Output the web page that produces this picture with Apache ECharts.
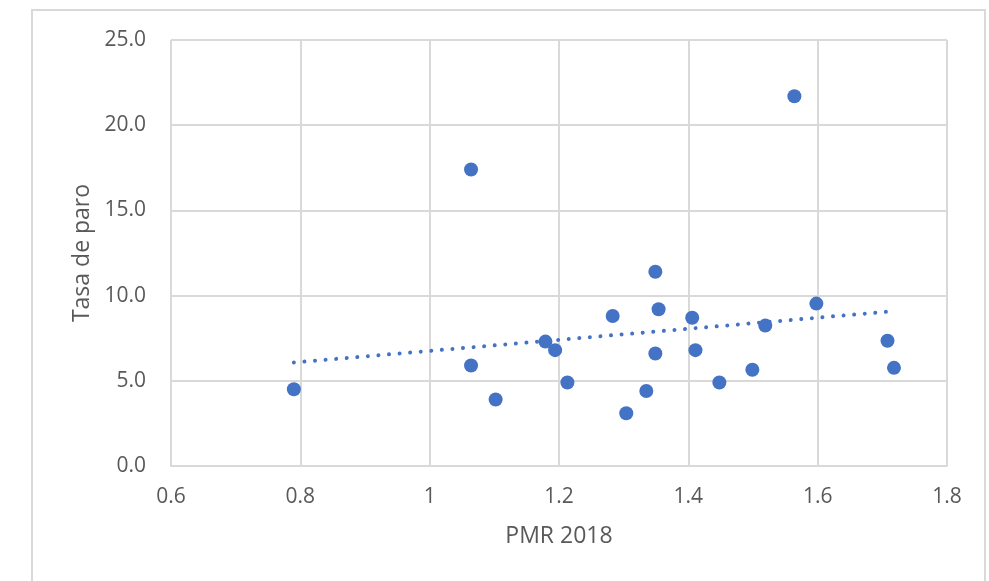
<!DOCTYPE html>
<html>
<head>
<meta charset="utf-8">
<script src="https://cdn.jsdelivr.net/npm/echarts@6/dist/echarts.min.js"></script>
<style>html,body{margin:0;padding:0;background:#fff}#c{width:989px;height:581px}</style>
</head>
<body>
<div id="c"></div>
<script>
var pmr = [0.790,1.064,1.064,1.102,1.179,1.194,1.213,1.283,1.304,1.335,1.349,1.354,1.349,1.406,1.411,1.448,1.499,1.519,1.564,1.598,1.708,1.718];
var paro = [4.5,17.4,5.9,3.9,7.3,6.8,4.9,8.8,3.1,4.4,11.4,9.2,6.6,8.7,6.8,4.9,5.65,8.24,21.7,9.53,7.35,5.76];
var xTicks = [0.6,0.8,1,1.2,1.4,1.6,1.8];
var yTicks = [0,5,10,15,20,25];

var n = pmr.length, sx=0, sy=0, sxx=0, sxy=0;
for (var i=0;i<n;i++){sx+=pmr[i];sy+=paro[i];sxx+=pmr[i]*pmr[i];sxy+=pmr[i]*paro[i];}
var slope=(n*sxy-sx*sy)/(n*sxx-sx*sx), icpt=(sy-slope*sx)/n;
var xmin=Math.min.apply(null,pmr), xmax=Math.max.apply(null,pmr);
var trend=[[xmin,icpt+slope*xmin],[xmax,icpt+slope*xmax]];

var chart = echarts.init(document.getElementById('c'));
var txt = '#595959', fam = '"Open Sans", Calibri, Carlito, sans-serif';
chart.setOption({
  backgroundColor:'#fff',
  animation:false,
  graphic:[{type:'rect',shape:{x:32,y:10,width:953,height:600},style:{fill:'none',stroke:'#d9d9d9',lineWidth:2},silent:true,z:-1}],
  grid:{left:171,right:42,top:40,bottom:115},
  xAxis:{type:'value',min:0.6,max:1.8,interval:0.2,
    name:'PMR 2018',nameLocation:'middle',nameGap:59,
    nameTextStyle:{color:txt,fontSize:23,fontFamily:fam},
    axisLine:{show:true,lineStyle:{color:'#d9d9d9',width:2}},axisTick:{show:false},
    axisLabel:{color:txt,fontSize:21,fontFamily:fam,margin:21,formatter:function(v){return xTicks.indexOf(+v.toFixed(1))>=0?String(+v.toFixed(1)):'';}},
    splitLine:{show:true,lineStyle:{color:'#d9d9d9',width:2}}},
  yAxis:{type:'value',min:0,max:25,interval:5,
    name:'Tasa de paro',nameLocation:'middle',nameGap:77,
    nameTextStyle:{color:txt,fontSize:23,fontFamily:fam},
    axisLine:{show:false},axisTick:{show:false},
    axisLabel:{color:txt,fontSize:21,fontFamily:fam,margin:25,formatter:function(v){return v.toFixed(1);}},
    splitLine:{show:true,lineStyle:{color:'#d9d9d9',width:2}}},
  series:[
    {type:'line',data:trend,symbol:'none',silent:true,
     lineStyle:{color:'#4472C4',width:4,type:[0.01,10.6],cap:'round'},z:2},
    {type:'scatter',data:pmr.map(function(x,i){return [x,paro[i]];}),symbolSize:14,
     itemStyle:{color:'#4472C4',opacity:1},z:3}
  ]
});
</script>
</body>
</html>
